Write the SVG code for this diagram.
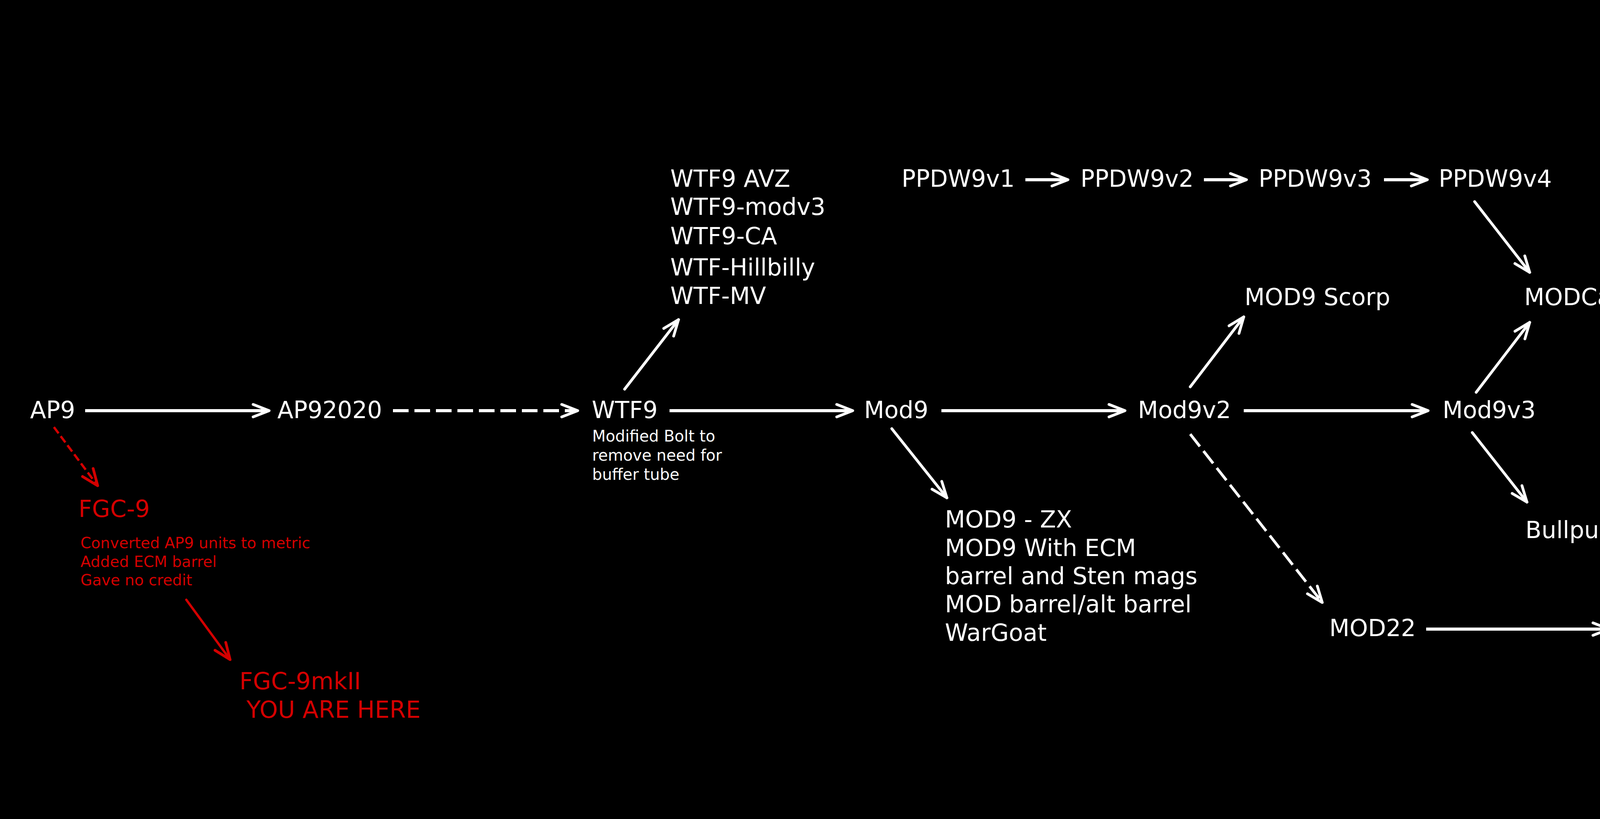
<svg xmlns="http://www.w3.org/2000/svg" width="5016" height="2096" viewBox="0 0 5016 2096">
<style>
text{font-family:"DejaVu Sans","Liberation Sans",sans-serif;font-size:60px;fill:#fff}
.red{fill:#d40000}
.sm{font-size:40px}
.smr{font-size:39px;fill:#d40000}
.c{fill:none;stroke:#fff;stroke-width:7;stroke-linecap:round}
.h{stroke-width:8;stroke-linecap:butt}
.d{stroke-dasharray:40 15;stroke-linecap:butt}
.r{stroke:#d40000;stroke-width:6}
.rd{stroke-dasharray:20 9;stroke-linecap:butt}
.w{marker-end:url(#ah)}
.wr{marker-end:url(#ahr)}
</style>
<defs>
<marker id="ah" markerUnits="userSpaceOnUse" orient="auto" overflow="visible" markerWidth="1" markerHeight="1" refX="0" refY="0"><path d="M-41,-16 L0,0 L-41,16" fill="none" stroke="#fff" stroke-width="7" stroke-linecap="round" stroke-linejoin="round"/></marker>
<marker id="ahr" markerUnits="userSpaceOnUse" orient="auto" overflow="visible" markerWidth="1" markerHeight="1" refX="0" refY="0"><path d="M-42,-17 L0,0 L-42,17" fill="none" stroke="#d40000" stroke-width="7" stroke-linecap="round" stroke-linejoin="round"/></marker>
</defs>
<rect width="5016" height="2096" fill="#000"/>
<g id="connectors">
<path class="c h w" d="M218,1051 L689,1051"/>
<path class="c h d w" d="M1006,1051 L1479,1051"/>
<path class="c h w" d="M1714,1051 L2183,1051"/>
<path class="c h w" d="M2410,1051 L2880,1051"/>
<path class="c h w" d="M3184,1051 L3656,1051"/>
<path class="c h w" d="M2625,460 L2734,460"/>
<path class="c h w" d="M3082,460 L3191,460"/>
<path class="c h w" d="M3543,460 L3654,460"/>
<path class="c h w" d="M3651,1610 L4119,1610"/>
<path class="c w" d="M1599,996 L1737,818"/>
<path class="c w" d="M2283,1097 L2424,1274"/>
<path class="c w" d="M3047,990 L3184,811"/>
<path class="c d w" d="M3047,1111 L3385,1542"/>
<path class="c w" d="M3779,1004 L3916,825"/>
<path class="c w" d="M3769,1107 L3909,1285"/>
<path class="c w" d="M4482,1004 L4620,825"/>
<path class="c w" d="M3775,516 L3916,697"/>
<path class="c r rd wr" d="M138,1093 L250,1243"/>
<path class="c r wr" d="M477,1535 L589,1688"/>
</g>
<g id="AP9"><text x="77" y="1070">AP9</text></g>
<g id="AP92020"><text x="710" y="1070">AP92020</text></g>
<g id="WTF9"><text x="1515" y="1070">WTF9</text>
<text class="sm" x="1516" y="1130">Modified Bolt to</text>
<text class="sm" x="1516" y="1179">remove need for</text>
<text class="sm" x="1516" y="1228">buffer tube</text></g>
<g id="WTF9variants">
<text x="1716" y="478">WTF9 AVZ</text>
<text x="1716" y="550">WTF9-modv3</text>
<text x="1716" y="625">WTF9-CA</text>
<text x="1716" y="705">WTF-Hillbilly</text>
<text x="1716" y="778">WTF-MV</text></g>
<g id="Mod9"><text x="2212" y="1070">Mod9</text></g>
<g id="Mod9variants">
<text x="2419" y="1350">MOD9 - ZX</text>
<text x="2419" y="1423">MOD9 With ECM</text>
<text x="2419" y="1495">barrel and Sten mags</text>
<text x="2419" y="1567">MOD barrel/alt barrel</text>
<text x="2419" y="1640">WarGoat</text></g>
<g id="Mod9v2"><text x="2913" y="1070">Mod9v2</text></g>
<g id="Mod9v3"><text x="3693" y="1070">Mod9v3</text></g>
<g id="COBRA9"><text x="4376" y="1070">COBRA-9</text></g>
<g id="KingCobra"><text x="4595" y="781">KingCobra</text></g>
<g id="MOD9Scorp"><text x="3186" y="781">MOD9 Scorp</text></g>
<g id="MODCat"><text x="3902" y="781">MODCat</text></g>
<g id="Bullpup"><text x="3905" y="1377">Bullpup</text></g>
<g id="MOD22"><text x="3403" y="1628">MOD22</text></g>
<g id="MOD22x"><text x="4150" y="1628">MOD22x</text></g>
<g id="PPDW9v1"><text x="2308" y="478">PPDW9v1</text></g>
<g id="PPDW9v2"><text x="2766" y="478">PPDW9v2</text></g>
<g id="PPDW9v3"><text x="3222" y="478">PPDW9v3</text></g>
<g id="PPDW9v4"><text x="3683" y="478">PPDW9v4</text></g>
<g id="FGC9"><text class="red" x="201" y="1323">FGC-9</text>
<text class="smr" x="206" y="1403">Converted AP9 units to metric</text>
<text class="smr" x="206" y="1451">Added ECM barrel</text>
<text class="smr" x="206" y="1498">Gave no credit</text></g>
<g id="FGC9mkII"><text class="red" x="613" y="1764">FGC-9mkII<tspan x="631" y="1837">YOU ARE HERE</tspan></text></g>
</svg>
